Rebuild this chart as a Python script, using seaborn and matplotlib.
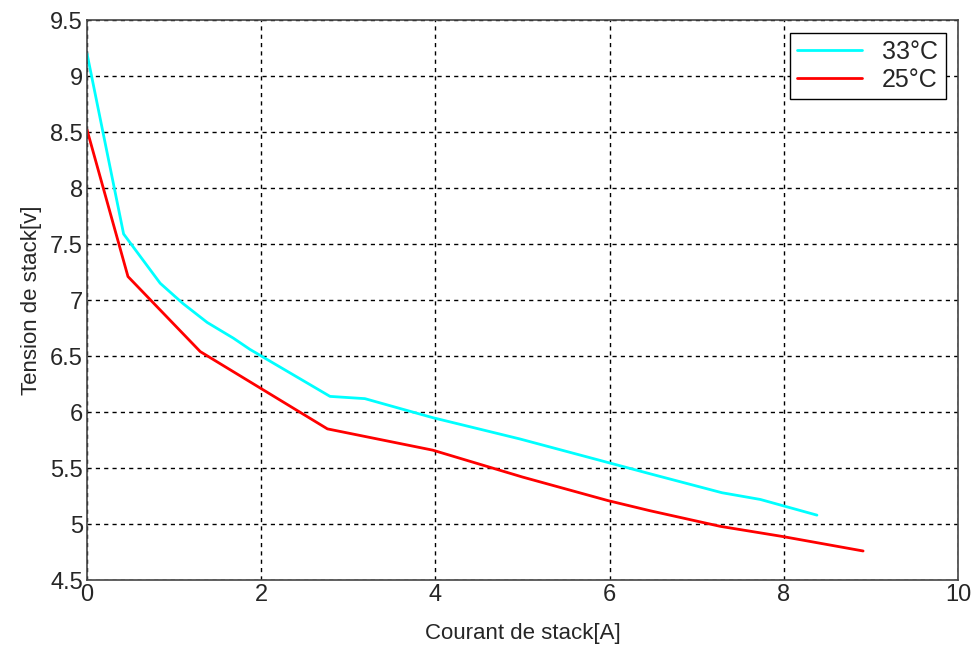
import matplotlib.pyplot as plt
import pandas as pd
import seaborn as sns

# courbes
i_33 = [0.0, 0.42, 0.84, 1.10, 1.38, 1.68, 1.87, 2.79, 3.19, 3.97, 4.97, 5.98, 6.46, 7.29, 7.73, 8.38]
v_33 = [9.20, 7.59, 7.15, 6.97, 6.80, 6.66, 6.56, 6.14, 6.12, 5.95, 5.76, 5.55, 5.45, 5.28, 5.22, 5.08]
i_25 = [0.0, 0.47, 1.30, 2.76, 3.97, 5.00, 5.98, 6.46, 7.27, 7.98, 8.91]
v_25 = [8.52, 7.21, 6.54, 5.85, 5.66, 5.42, 5.21, 5.12, 4.98, 4.89, 4.76]

df = pd.concat([
    pd.DataFrame({'I': i_33, 'V': v_33, 'T': '33°C'}),
    pd.DataFrame({'I': i_25, 'V': v_25, 'T': '25°C'}),
], ignore_index=True)

sns.set_style('white')
plt.rcParams['font.family'] = ['Liberation Sans', 'DejaVu Sans']

fig = plt.figure(figsize=(9.8, 6.46), dpi=100)
ax = fig.add_axes([0.0888, 0.102, 0.8888, 0.867])
sns.lineplot(data=df, x='I', y='V', hue='T', sort=False, estimator=None,
             palette={'33°C': '#00ffff', '25°C': '#ff0000'}, linewidth=2, ax=ax)

ax.set_xlim(0, 10)
ax.set_ylim(4.5, 9.5)
ax.set_xticks([0, 2, 4, 6, 8, 10])
ax.set_yticks([4.5, 5, 5.5, 6, 6.5, 7, 7.5, 8, 8.5, 9, 9.5])
ax.set_yticklabels(['4.5', '5', '5.5', '6', '6.5', '7', '7.5', '8', '8.5', '9', '9.5'])
ax.grid(True, color='black', linestyle=(0, (3, 3)), linewidth=1)
ax.tick_params(labelsize=17, direction='in', length=5, color='#333333', pad=3)
for s in ax.spines.values():
    s.set_color('#444444')
    s.set_linewidth(1.2)

ax.set_xlabel('Courant de stack[A]', fontsize=16, labelpad=12)
ax.set_ylabel('Tension de stack[v]', fontsize=16, labelpad=6)

leg = ax.legend(loc='upper right', fontsize=18, fancybox=False, framealpha=1,
                edgecolor='black', handlelength=2.6, borderaxespad=0.5,
                labelspacing=0.15, borderpad=0.3)
leg.set_title(None)

fig.savefig('out.png', dpi=100)
